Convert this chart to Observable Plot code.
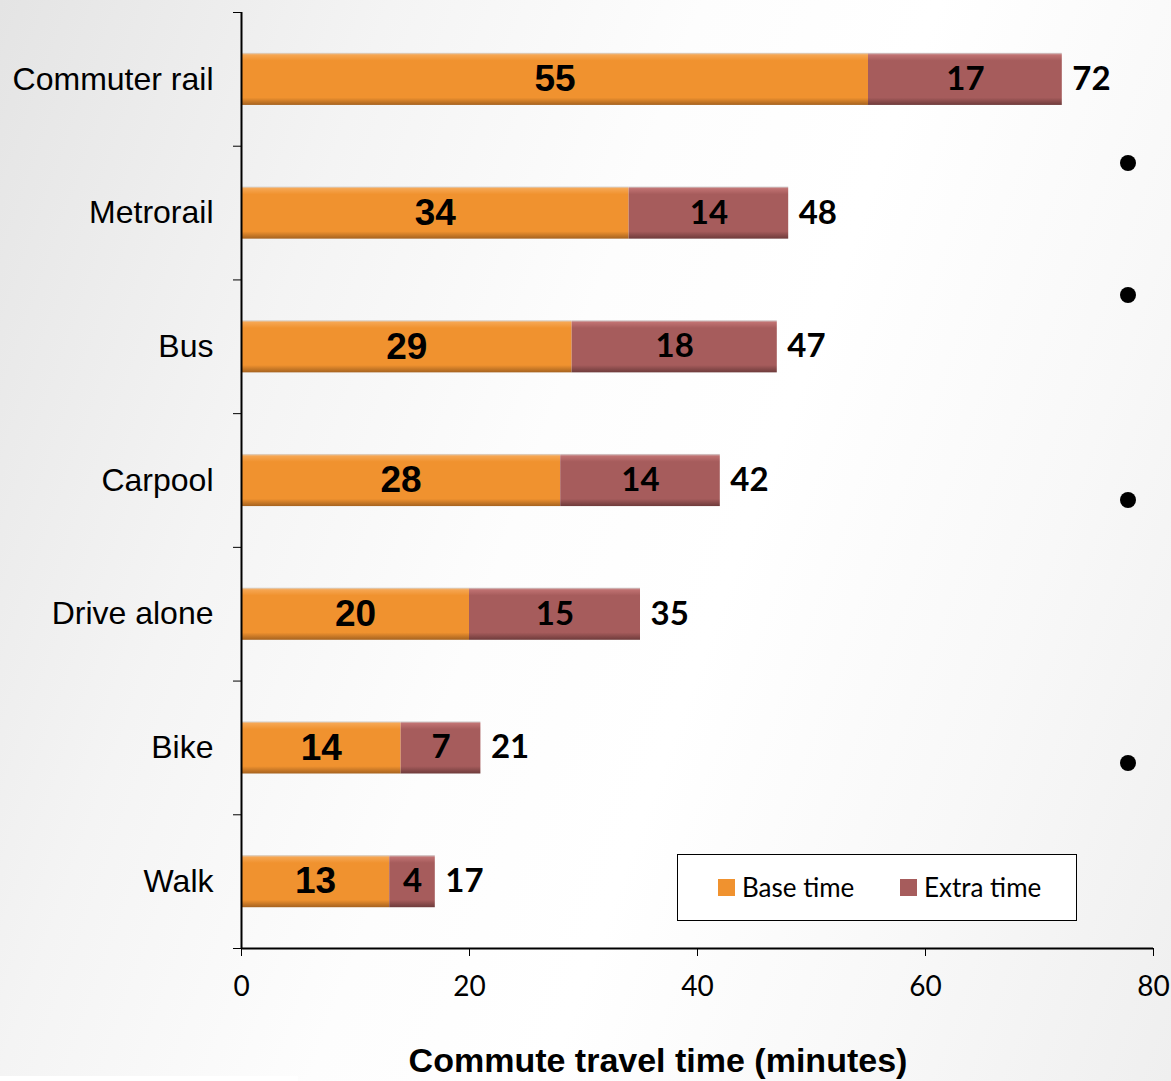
<!DOCTYPE html>
<html>
<head>
<meta charset="utf-8">
<script src="https://cdn.jsdelivr.net/npm/d3@7"></script>
<script src="https://cdn.jsdelivr.net/npm/@observablehq/plot@0.6"></script>
<style>
  html, body { margin: 0; padding: 0; }
  body { width: 1171px; height: 1081px; overflow: hidden; background: #fff; }
  #wrap {
    position: relative; width: 1171px; height: 1081px;
    background: linear-gradient(110deg, #e4e4e4 0%, #f4f4f4 25%, #fdfdfd 45%, #ffffff 60%, #f8f8f8 80%, #efefef 100%);
  }
  #chart { position: absolute; left: 0; top: 0; }
  #xtitle {
    position: absolute; left: 360px; width: 596px; top: 1040px; text-align: center;
    font-family: "Liberation Sans", Arial, sans-serif; font-weight: bold; font-size: 34px; line-height: 40px; color: #000;
  }
  #legend {
    position: absolute; left: 677px; top: 854px; width: 398px; height: 65px;
    border: 1.5px solid #000; background: #fff; box-sizing: content-box;
    font-family: Lato, "Open Sans", sans-serif; font-size: 26px; color: #000;
  }
  .item { position: absolute; top: 16px; display: flex; align-items: center; }
  .sw { width: 17px; height: 17px; margin-right: 7px; }
  .bullet { position: absolute; width: 16px; height: 16px; border-radius: 50%; background: #000; }
  #strip { position: absolute; left: 0; top: 1076px; width: 298px; height: 5px; background: #fff; }
</style>
</head>
<body>
<div id="wrap">
  <div id="chart"></div>
  <div id="xtitle">Commute travel time (minutes)</div>
  <div id="legend"></div>
  <div id="strip"></div>
</div>
<script>
const categories = ["Commuter rail", "Metrorail", "Bus", "Carpool", "Drive alone", "Bike", "Walk"];
const baseTime  = [55, 34, 29, 28, 20, 14, 13];
const extraTime = [17, 14, 18, 14, 15, 7, 4];
const totalTime = [72, 48, 47, 42, 35, 21, 17];
const xTicks = [0, 20, 40, 60, 80];
const seriesNames = ["Base time", "Extra time"];
const seriesColors = ["#f0922f", "#a65c5c"];
const bulletRows = [163, 295, 500, 763];

const rows = categories.map((c, i) => ({
  cat: c, i, base: baseTime[i], extra: extraTime[i], total: totalTime[i],
  end: baseTime[i] + extraTime[i]
}));

const half = 0.195;
const plot = Plot.plot({
  width: 1171,
  height: 1081,
  marginLeft: 241,
  marginRight: 18,
  marginTop: 12,
  marginBottom: 133,
  style: { background: "transparent", color: "#000", overflow: "visible" },
  x: { domain: [0, 80], label: null },
  y: { domain: [0, 7], reverse: true, label: null },
  marks: [
    Plot.rectX(rows, { x1: 0, x2: "base", y1: d => d.i + 0.5 - half, y2: d => d.i + 0.5 + half, fill: "url(#gBase)" }),
    Plot.rectX(rows, { x1: "base", x2: "end", y1: d => d.i + 0.5 - half, y2: d => d.i + 0.5 + half, fill: "url(#gExtra)" }),
    Plot.ruleX([0], { y1: 0, y2: 7, stroke: "#000", strokeWidth: 2 }),
    Plot.ruleY([7], { x1: 0, x2: 80, stroke: "#000", strokeWidth: 2 }),
    Plot.axisX({
      ticks: xTicks, tickSize: 8, tickPadding: 20, label: null,
      fontSize: 28, fontFamily: "Lato, 'Open Sans', sans-serif", stroke: "#000"
    }),
    Plot.axisY({
      ticks: d3.range(8), tickSize: 8, tickFormat: () => "", label: null, stroke: "#000"
    }),
    Plot.axisY({
      ticks: categories.map((c, i) => i + 0.5), tickSize: 0, tickPadding: 28, label: null,
      tickFormat: v => categories[Math.floor(v)],
      fontSize: 32, fontFamily: "'Liberation Sans', Arial, sans-serif"
    }),
    Plot.text(rows, {
      x: d => d.base / 2, y: d => d.i + 0.5, text: d => String(d.base),
      fontSize: 37, fontWeight: "bold", fontFamily: "'Liberation Sans', Arial, sans-serif", fill: "#000"
    }),
    Plot.text(rows, {
      x: d => d.base + d.extra / 2, y: d => d.i + 0.5, text: d => String(d.extra),
      fontSize: 33, fontWeight: "bold", fontFamily: "Lato, 'Open Sans', sans-serif", fill: "#000"
    }),
    Plot.text(rows, {
      x: "end", y: d => d.i + 0.5, text: d => String(d.total), textAnchor: "start", dx: 10,
      fontSize: 33, fontWeight: "bold", fontFamily: "Lato, 'Open Sans', sans-serif", fill: "#000"
    })
  ]
});

// gradient defs for the slightly shaded bars
const svg = d3.select(plot);
const defs = svg.insert("defs", ":first-child");
function grad(id, light, mid, dark) {
  const g = defs.append("linearGradient").attr("id", id).attr("x1", 0).attr("y1", 0).attr("x2", 0).attr("y2", 1);
  g.append("stop").attr("offset", "0%").attr("stop-color", "#d8d8d8");
  g.append("stop").attr("offset", "4%").attr("stop-color", light);
  g.append("stop").attr("offset", "15%").attr("stop-color", mid);
  g.append("stop").attr("offset", "86%").attr("stop-color", mid);
  g.append("stop").attr("offset", "100%").attr("stop-color", dark);
}
grad("gBase", "#f6a652", seriesColors[0], "#a5621f");
grad("gExtra", "#c07272", seriesColors[1], "#6e3b3b");

document.getElementById("chart").appendChild(plot);

// legend
const legend = document.getElementById("legend");
const legendLeft = [40, 222];
seriesNames.forEach((name, k) => {
  const item = document.createElement("div");
  item.className = "item";
  item.style.left = legendLeft[k] + "px";
  item.innerHTML = `<div class="sw" style="background:${seriesColors[k]}"></div><span>${name}</span>`;
  legend.appendChild(item);
});

// decorative slide bullets at the right edge
const wrap = document.getElementById("wrap");
bulletRows.forEach(top => {
  const b = document.createElement("div");
  b.className = "bullet";
  b.style.left = "1120px";
  b.style.top = (top - 8) + "px";
  wrap.appendChild(b);
});
</script>
</body>
</html>
